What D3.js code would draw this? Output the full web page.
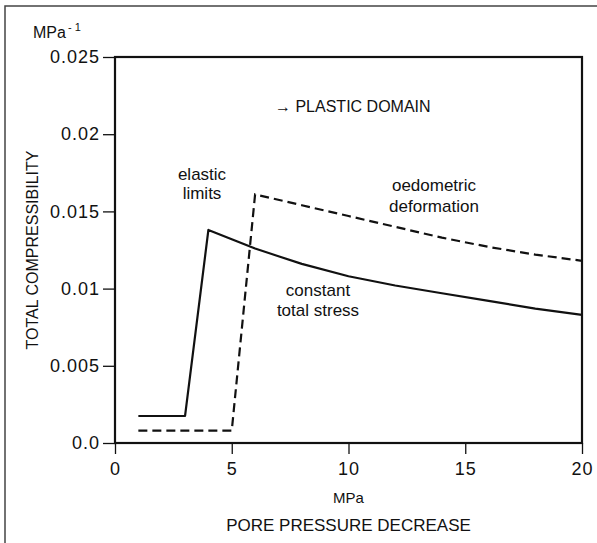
<!DOCTYPE html>
<html>
<head>
<meta charset="utf-8">
<script src="https://cdn.jsdelivr.net/npm/d3@7"></script>
<style>
  body { margin: 0; background: #fff; }
  svg text { font-family: "Liberation Sans", Arial, sans-serif; fill: #111; }
</style>
</head>
<body>
<div id="chart"></div>
<script>
// values
var xTicks = [0, 5, 10, 15, 20];
var yTicks = [0, 0.005, 0.01, 0.015, 0.02, 0.025];
var yTickLabels = ["0.0", "0.005", "0.01", "0.015", "0.02", "0.025"];

var stressX = [1, 3, 4, 5, 6, 7, 8, 10, 12, 14, 16, 18, 20];
var stressY = [0.00175, 0.00175, 0.0138, 0.0132, 0.0126, 0.0121, 0.0116, 0.0108, 0.0102, 0.0097, 0.0092, 0.0087, 0.0083];

var oedoX = [1, 5, 6, 8, 10, 12, 14, 16, 18, 20];
var oedoY = [0.0008, 0.0008, 0.0161, 0.0154, 0.0147, 0.014, 0.0133, 0.0127, 0.0122, 0.0118];

var W = 597, H = 543;
var margin = { top: 57, right: 15, bottom: 100, left: 115 };

var svg = d3.select("#chart").append("svg")
    .attr("width", W)
    .attr("height", H);

// outer frame of the figure
svg.append("path")
    .attr("d", "M5," + H + "V6H" + W)
    .attr("fill", "none")
    .attr("stroke", "#444")
    .attr("stroke-width", 1.5);

var x = d3.scaleLinear().domain([0, 20]).range([margin.left, W - margin.right]);
var y = d3.scaleLinear().domain([0, 0.025]).range([H - margin.bottom, margin.top]);

var xAxis = d3.axisBottom(x).tickValues(xTicks).tickSize(11).tickPadding(8).tickFormat(d3.format("d"));
var gx = svg.append("g")
    .attr("transform", "translate(0," + y(0) + ")")
    .call(xAxis);

var yAxis = d3.axisLeft(y).tickValues(yTicks).tickSize(12).tickPadding(3)
    .tickFormat(function(d, i) { return yTickLabels[i]; });
var gy = svg.append("g")
    .attr("transform", "translate(" + x(0) + ",0)")
    .call(yAxis);

[gx, gy].forEach(function(g) {
    g.select(".domain").remove();
    g.selectAll(".tick line").attr("stroke", "#111").attr("stroke-width", 1.3);
    g.selectAll(".tick text")
        .attr("font-size", 18)
        .attr("letter-spacing", 1)
        .attr("fill", "#111");
});

// plot box
svg.append("rect")
    .attr("x", x(0))
    .attr("y", y(0.025))
    .attr("width", x(20) - x(0))
    .attr("height", y(0) - y(0.025))
    .attr("fill", "none")
    .attr("stroke", "#111")
    .attr("stroke-width", 2.2);

var line = d3.line()
    .x(function(d) { return x(d[0]); })
    .y(function(d) { return y(d[1]); });

svg.append("path")
    .datum(d3.zip(stressX, stressY))
    .attr("d", line)
    .attr("fill", "none")
    .attr("stroke", "#111")
    .attr("stroke-width", 2.2)
    .attr("stroke-linejoin", "round");

svg.append("path")
    .datum(d3.zip(oedoX, oedoY))
    .attr("d", line)
    .attr("fill", "none")
    .attr("stroke", "#111")
    .attr("stroke-width", 2.2)
    .attr("stroke-dasharray", "9,5");

// units and titles
var unitY = svg.append("text")
    .attr("x", 33)
    .attr("y", 38)
    .attr("font-size", 16);
unitY.append("tspan").text("MPa");
unitY.append("tspan").attr("dx", 2).attr("dy", -7).attr("font-size", 11).text("- 1");

svg.append("text")
    .attr("transform", "translate(38," + ((y(0) + y(0.025)) / 2) + ") rotate(-90)")
    .attr("text-anchor", "middle")
    .attr("font-size", 16)
    .text("TOTAL COMPRESSIBILITY");

svg.append("text")
    .attr("x", x(10))
    .attr("y", 503)
    .attr("text-anchor", "middle")
    .attr("font-size", 15)
    .text("MPa");

svg.append("text")
    .attr("x", x(10))
    .attr("y", 531)
    .attr("text-anchor", "middle")
    .attr("font-size", 17)
    .text("PORE PRESSURE DECREASE");

// annotations
svg.append("text")
    .attr("x", 275)
    .attr("y", 112)
    .attr("font-size", 16)
    .text("\u2192 PLASTIC DOMAIN");

function label(cx, lines, y0, gap) {
    var t = svg.append("text")
        .attr("text-anchor", "middle")
        .attr("font-size", 17);
    lines.forEach(function(s, i) {
        t.append("tspan").attr("x", cx).attr("y", y0 + i * gap).text(s);
    });
}
label(202, ["elastic", "limits"], 180, 19);
label(434, ["oedometric", "deformation"], 191, 21);
label(318, ["constant", "total stress"], 296, 20);
</script>
</body>
</html>
